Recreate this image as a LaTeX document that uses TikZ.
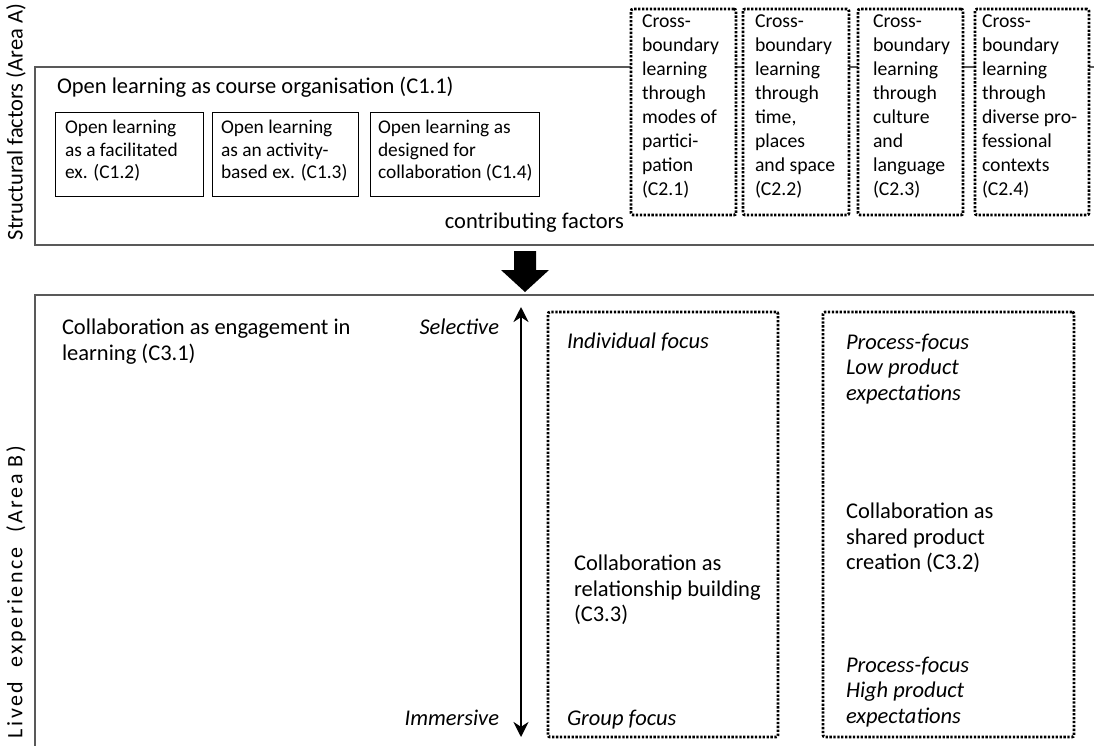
\documentclass[tikz,border=0pt]{standalone}
\usepackage{fontspec}
\setmainfont{Carlito}
\newfontfamily\spacedfont[LetterSpace=11]{Carlito}
\usetikzlibrary{arrows.meta}
\begin{document}
\begin{tikzpicture}[x=1pt,y=-1pt,
  every node/.style={inner sep=0pt, outer sep=0pt},
  frame/.style={draw=black!65, line width=1.3pt},
  solidbox/.style={draw=black, line width=1pt, anchor=north west, minimum height=84pt},
  boxtext/.style={anchor=west, align=left, font=\fontsize{19.4}{22.5}\selectfont},
  dotbox/.style={draw=black, fill=white, line width=2.8pt, dash pattern=on 2.3pt off 1.6pt,
     rounded corners=2pt, anchor=north west},
  cbtext/.style={anchor=north west, align=left, font=\fontsize{19.7}{24}\selectfont},
  body/.style={anchor=north west, align=left, font=\fontsize{22.5}{25.5}\selectfont},
  ital/.style={body, font=\fontsize{22.5}{25.5}\selectfont\itshape},
  side/.style={rotate=90, font=\fontsize{22.5}{26}\selectfont},
  bigarrow/.style={fill=black},
  dblarrow/.style={line width=2.6pt, {Stealth[length=15pt,width=15pt]}-{Stealth[length=15pt,width=15pt]}}
]
\clip (0,0) rectangle (1094,745);
\fill[white] (0,0) rectangle (1094,745);

% Area frames
\draw[frame] (1100,67) -- (35,67) -- (35,245) -- (1100,245);
\draw[frame] (1100,295) -- (35,295) -- (35,760);

% side labels
\node[side] (areaA) at (16,122) {Structural factors (Area A)};
\node[side, font=\fontsize{22}{26}\spacedfont] (areaB) at (16,592) {Lived\ \ experience\ \ (Area B)};

% Area A
\node[anchor=north west, font=\fontsize{22.5}{26}\selectfont] (c11) at (57,77) {Open learning as course organisation (C1.1)};
\node[solidbox, minimum width=148pt] (c12) at (55,112) {};
\node[solidbox, minimum width=146pt] (c13) at (212,112) {};
\node[solidbox, minimum width=169pt] (c14) at (370,112) {};
\node[boxtext] (c12t) at ([xshift=10pt,yshift=3pt]c12.west) {Open learning\\as a facilitated\\ex. (C1.2)};
\node[boxtext] (c13t) at ([xshift=9pt,yshift=3pt]c13.west) {Open learning\\as an activity-\\based ex. (C1.3)};
\node[boxtext] (c14t) at ([xshift=8pt,yshift=3pt]c14.west) {Open learning as\\designed for\\collaboration (C1.4)};
\node[anchor=north east, font=\fontsize{22.5}{26}\selectfont] (contrib) at (624,213) {contributing factors};

% cross-boundary boxes
\node[dotbox, minimum width=105pt, minimum height=206pt] (c21) at (631,9) {};
\node[dotbox, minimum width=106pt, minimum height=206pt] (c22) at (743,9) {};
\node[dotbox, minimum width=105pt, minimum height=206pt] (c23) at (858,9) {};
\node[dotbox, minimum width=114pt, minimum height=206pt] (c24) at (975,9) {};
\node[cbtext] (c21t) at ([xshift=11pt,yshift=-6pt]c21.north west)
  {Cross-\\boundary\\learning\\through\\modes of\\partici-\\pation\\(C2.1)};
\node[cbtext] (c22t) at ([xshift=12pt,yshift=-6pt]c22.north west)
  {Cross-\\boundary\\learning\\through\\time,\\places\\and space\\(C2.2)};
\node[cbtext] (c23t) at ([xshift=15pt,yshift=-6pt]c23.north west)
  {Cross-\\boundary\\learning\\through\\culture\\and\\language\\(C2.3)};
\node[cbtext] (c24t) at ([xshift=7pt,yshift=-6pt]c24.north west)
  {Cross-\\boundary\\learning\\through\\diverse pro-\\fessional\\contexts\\(C2.4)};

% big arrow between areas
\coordinate (ta) at (525,251);
\fill[bigarrow] (ta) ++(-11,0) -- ++(22,0) -- ++(0,19) -- ++(13,0) -- ++(-24,22) -- ++(-24,-22) -- ++(13,0) -- cycle;

% Area B
\node[body] (c31) at (62,319) {Collaboration as engagement in\\learning (C3.1)};
\node[ital, anchor=north east] (sel) at (499,319) {Selective};
\node[ital, anchor=north east] (imm) at (499,710) {Immersive};
\coordinate (atop) at (521,307);
\coordinate (abot) at (521,737);
\draw[dblarrow] (atop) -- (abot);

\node[dotbox, fill=none, minimum width=230pt, minimum height=425pt] (midbox) at (548,312) {};
\node[dotbox, fill=none, minimum width=251pt, minimum height=425pt] (rightbox) at (823,312) {};

\node[ital] (indiv) at (567,333) {Individual focus};
\node[body] (c33) at (574,555) {Collaboration as\\relationship building\\(C3.3)};
\node[ital] (group) at (567,710) {Group focus};

\node[ital] (low) at (846,334) {Process-focus\\Low product\\expectations};
\node[body] (c32) at (846,503) {Collaboration as\\shared product\\creation (C3.2)};
\node[ital] (high) at (846,657) {Process-focus\\High product\\expectations};
\end{tikzpicture}
\end{document}
